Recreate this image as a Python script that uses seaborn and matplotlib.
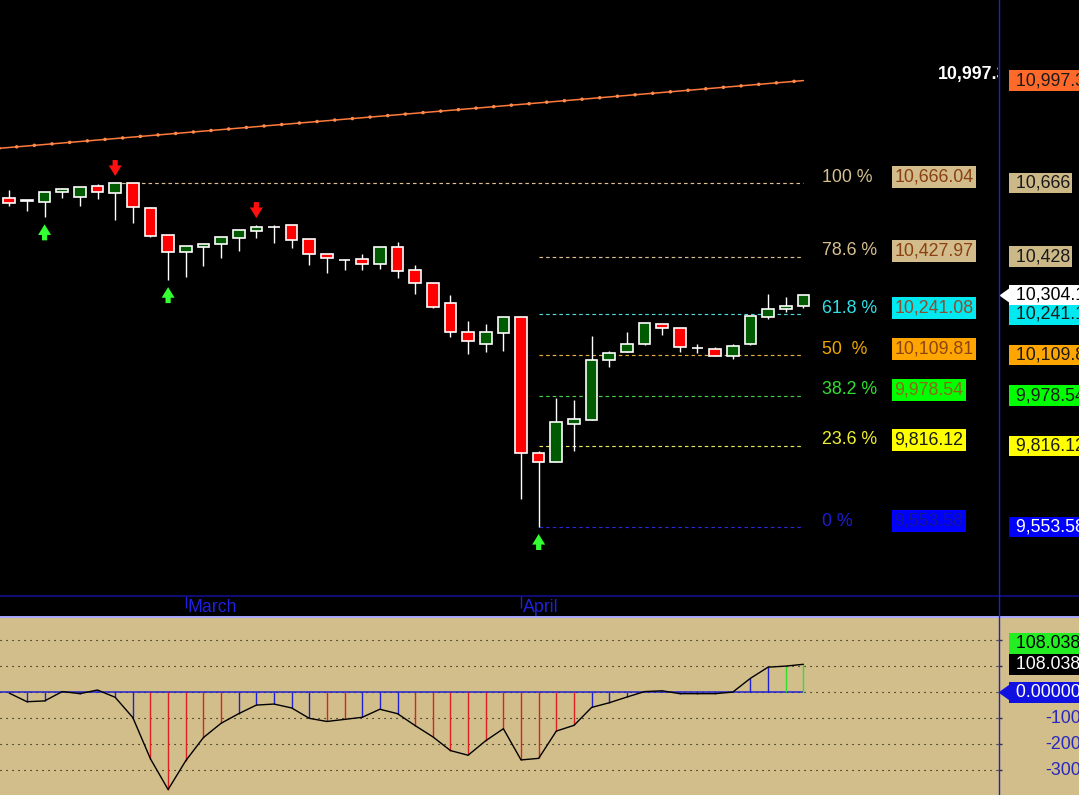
import matplotlib
matplotlib.use("Agg")
import matplotlib.pyplot as plt
import matplotlib.transforms as mtransforms
from matplotlib.lines import Line2D
from matplotlib.patches import Rectangle
import seaborn as sns

# ---- price data ----
opens  = [10617, 10610, 10606, 10636, 10622, 10656, 10635, 10665, 10584, 10497,
          10444, 10460, 10468, 10489, 10512, 10525, 10529, 10484, 10435, 10418,
          10419, 10403, 10458, 10384, 10342, 10277, 10183, 10146, 10180, 10232,
          9794, 9765, 9888, 9901, 10093, 10119, 10144, 10209, 10196, 10134,
          10128, 10106, 10144, 10232, 10258, 10267]
highs  = [10643, 10611, 10637, 10650, 10653, 10662, 10666.04, 10666, 10588, 10498,
          10462, 10469, 10491, 10514, 10530, 10530, 10530, 10485, 10436, 10420,
          10436, 10459, 10474, 10400, 10344, 10303, 10220, 10210, 10233, 10233,
          9800, 9970, 9964, 10171, 10123, 10183, 10213, 10210, 10197, 10144,
          10136, 10144, 10236, 10306, 10296, 10304.5]
lows   = [10593, 10576, 10555, 10619, 10593, 10614, 10546, 10538, 10492, 10352,
          10363, 10398, 10424, 10447, 10489, 10473, 10456, 10401, 10376, 10385,
          10385, 10388, 10360, 10307, 10262, 10169, 10113, 10120, 10124, 9644,
          9553.58, 9764, 9800, 9900, 10072, 10118, 10143, 10174, 10119, 10115,
          10105, 10098, 10143, 10225, 10248, 10261]
closes = [10602, 10608, 10636, 10646, 10652, 10638, 10665, 10589, 10496, 10444,
          10461, 10468, 10490, 10513, 10523, 10523, 10483, 10435, 10423, 10416,
          10403, 10458, 10382, 10342, 10264, 10183, 10154, 10183, 10232, 9794,
          9763, 9892, 9902, 10093, 10115, 10144, 10212, 10196, 10135, 10133,
          10106, 10138, 10235, 10258, 10267, 10304.1]

up_signals = [2, 9, 30]
down_signals = [6, 14]

month_names = ["March", "April"]
month_starts = [10, 29]

# trend line values at first and last bar
trend_first = 10781
trend_last = 10997.3
trend_text = "10,997.3"

# fibonacci retracement
fib_pct = ["100 %", "78.6 %", "61.8 %", "50  %", "38.2 %", "23.6 %", "0 %"]
fib_vals = [10666.04, 10427.97, 10241.08, 10109.81, 9978.54, 9816.12, 9553.58]
fib_start = [6, 30, 30, 30, 30, 30, 30]
fib_axis_text = ["10,666", "10,428", "10,241.1", "10,109.8", "9,978.54", "9,816.12", "9,553.58"]
last_close_text = "10,304.1"

# indicator (lower pane)
ind_vals = [-3, -36, -33, 3, -5, 9, -19, -97, -256, -374,
            -263, -174, -119, -82, -49, -45, -60, -100, -112, -104,
            -96, -65, -82, -128, -171, -224, -242, -186, -140, -260,
            -254, -149, -127, -58, -40, -18, 3, 6, -5, -5,
            -5, 1, 54, 97, 101, 108.038]
ind_state = list("bbbbbbbb" + "rrrrr" + "bbbbb" + "rr" + "bbb" + "rrrrrrrrrr" + "bbbbbbbbbbb" + "gg")
ind_grid = [200, 100, 0, -100, -200, -300]
ind_tick_text = ["-100", "-200", "-300"]
ind_last_text = "108.038"

# ---- style ----
sns.set_style("dark")
plt.rcParams["font.family"] = ["Liberation Sans", "DejaVu Sans"]
FS = 12.8

TAN = "#d1be8b"
fib_line_col = ["#e0c090", "#e0c090", "#50dada", "#e8b040", "#48d048", "#e8e860", "#2828d8"]
fib_pct_col = ["#d6c090", "#d6c090", "#30e0e8", "#f0a800", "#30e030", "#f0f030", "#1c1cd0"]
fib_box_bg = ["#d2bc8c", "#d2bc8c", "#00e8f0", "#ffa500", "#00ff00", "#ffff00", "#0000ff"]
fib_box_txt = ["#8b4010", "#8b4010", "#8b5030", "#8b4513", "#8b6a14", "#1a1a1a", "#14149a"]
fib_axis_bg = ["#cdb888", "#cdb888", "#00e8f0", "#ffa500", "#00ff00", "#ffff00", "#0000ff"]
fib_axis_txt = ["#1a1a1a"] * 6 + ["white"]
state_col = {"b": "#2020d0", "r": "#e02020", "g": "#30e030"}

W, H = 1079, 795
fig = plt.figure(figsize=(W / 100, H / 100), dpi=100, facecolor="black")


def px_rect(x0, y0, x1, y1):
    return [x0 / W, 1 - y1 / H, (x1 - x0) / W, (y1 - y0) / H]


ax = fig.add_axes(px_rect(0, 0, 998, 595))
ax_strip = fig.add_axes(px_rect(0, 596, 998, 616), sharex=ax)
ax_ind = fig.add_axes(px_rect(0, 617, 998, 795), sharex=ax)

for a, bg in [(ax, "black"), (ax_strip, "black"), (ax_ind, TAN)]:
    a.set_facecolor(bg)
    for s in a.spines.values():
        s.set_visible(False)
    a.set_xticks([])
    a.set_yticks([])
    a.grid(False)

idx = list(range(len(opens)))
ax.set_xlim(-0.527, 56.03)
ax.set_ylim(9333.7, 11257.9)

# ---- candles ----
ax.vlines(idx, lows, highs, color="white", lw=1.0, zorder=3)
body_col = ["#005a00" if c >= o else "#ff0000" for o, c in zip(opens, closes)]
ax.bar(idx, [c - o for o, c in zip(opens, closes)], bottom=opens, width=0.66,
       color=body_col, edgecolor="white", linewidth=1.2, zorder=4)

# signal arrows
arrow_style = "simple,head_length=0.45,head_width=0.55,tail_width=0.22"
for i in up_signals:
    ax.annotate("", xy=(i, lows[i]), xytext=(0, -23 * 0.72), textcoords="offset points",
                arrowprops=dict(arrowstyle=arrow_style, fc="#33ff33", ec="none",
                                shrinkA=0, shrinkB=7 * 0.72, mutation_scale=17), zorder=5)
for i in down_signals:
    ax.annotate("", xy=(i, highs[i]), xytext=(0, 23 * 0.72), textcoords="offset points",
                arrowprops=dict(arrowstyle=arrow_style, fc="#ff1010", ec="none",
                                shrinkA=0, shrinkB=7 * 0.72, mutation_scale=17), zorder=5)

# trend line with dots on every bar
step = (trend_last - trend_first) / (len(idx) - 1)
tx = [-1, idx[-1]]
ty = [trend_first - step, trend_last]
sns.lineplot(x=tx, y=ty, ax=ax, color="#ff7a3c", lw=1.1, legend=False)
ax.plot(tx, ty, color="#ff8a4c", lw=2.6, ls=(0, (0.01, 4.9)), dash_capstyle="round")

# fibonacci lines
ax.hlines(fib_vals, fib_start, idx[-1], colors=fib_line_col, lw=0.85,
          linestyles=(0, (3.0, 2.6)), zorder=2)

ybl = mtransforms.blended_transform_factory(ax.transAxes, ax.transData)
up6 = mtransforms.offset_copy(ybl, fig=fig, x=0, y=6, units="dots")
for k, v in enumerate(fib_vals):
    ax.text(821.7 / 998, v, fib_pct[k], transform=up6, color=fib_pct_col[k],
            ha="left", va="center", fontsize=FS)
    ax.text(894.4 / 998, v, f"{v:,.2f}", transform=up6, color=fib_box_txt[k],
            ha="left", va="center", fontsize=FS,
            bbox=dict(boxstyle="square,pad=0.14", fc=fib_box_bg[k], ec="none"))
    ax.text(1011 / 998, v, " " + fib_axis_text[k], transform=ybl, color=fib_axis_txt[k],
            ha="left", va="center", fontsize=FS, clip_on=False,
            bbox=dict(boxstyle="square,pad=0.1", fc=fib_axis_bg[k], ec="none"))

# trend line price labels
ax.text(938 / 998, trend_last, trend_text, transform=up6, color="white",
        fontweight="bold", ha="left", va="center", fontsize=FS, clip_on=True)
ax.text(1011 / 998, trend_last, " " + trend_text, transform=ybl, color="#1a1a1a",
        ha="left", va="center", fontsize=FS, clip_on=False,
        bbox=dict(boxstyle="square,pad=0.1", fc="#ff6a2a", ec="none"))

# last close tag
tag_marker = [(-0.7, 0), (0.7, 1), (0.7, -1)]
ax.plot([1005.2 / 998], [closes[-1]], transform=ybl, marker=tag_marker, ms=12.7,
        color="white", mew=0, clip_on=False)
ax.text(1011 / 998, closes[-1], " " + last_close_text, transform=ybl, color="black",
        ha="left", va="center", fontsize=FS, clip_on=False, zorder=6,
        bbox=dict(boxstyle="square,pad=0.1", fc="white", ec="none"))

# ---- month strip ----
xt = ax_strip.get_xaxis_transform()
ax_strip.vlines(month_starts, 0.4, 1.0, transform=xt, color="#2020e0", lw=1)
right3 = mtransforms.offset_copy(xt, fig=fig, x=2, y=0, units="dots")
for name, m in zip(month_names, month_starts):
    ax_strip.text(m, 0.45, name, transform=right3, color="#2020e0", ha="left",
                  va="center", fontsize=FS)

# ---- indicator pane ----
ax_ind.set_ylim(-395, 290)
for g in ind_grid:
    ax_ind.axhline(g, color="black", lw=0.8, ls=(0, (1, 4.4)), zorder=1)
ax_ind.hlines(0, -0.527, idx[-1], color="#2020d0", lw=1.1, zorder=2)
ax_ind.vlines(idx, 0, ind_vals, colors=[state_col[s] for s in ind_state], lw=1.0, zorder=3)
sns.lineplot(x=idx, y=ind_vals, ax=ax_ind, color="black", lw=1, legend=False, zorder=4)
ax_ind.set_xlabel("")
ax_ind.set_ylabel("")
ax_ind.yaxis.tick_right()
ax_ind.set_yticks(ind_grid)
ax_ind.set_yticklabels([])
ax_ind.tick_params(axis="y", length=3, width=1, color="#303050", direction="out")

ybi = mtransforms.blended_transform_factory(ax_ind.transAxes, ax_ind.transData)
up21 = mtransforms.offset_copy(ybi, fig=fig, x=0, y=21, units="dots")
last_val = ind_vals[-1]
ax_ind.text(1011 / 998, last_val, " " + ind_last_text, transform=up21, color="black",
            ha="left", va="center", fontsize=FS, clip_on=False,
            bbox=dict(boxstyle="square,pad=0.1", fc="#22ee22", ec="none"))
ax_ind.text(1011 / 998, last_val, " " + ind_last_text, transform=ybi, color="white",
            ha="left", va="center", fontsize=FS, clip_on=False,
            bbox=dict(boxstyle="square,pad=0.1", fc="black", ec="none"))
ax_ind.plot([1005.2 / 998], [0], transform=ybi, marker=tag_marker, ms=14.5,
            color="#1010e0", mew=0, clip_on=False)
ax_ind.text(1011 / 998, 0, " " + f"{0:.5f}", transform=ybi, color="white",
            ha="left", va="center", fontsize=FS, clip_on=False, zorder=6,
            bbox=dict(boxstyle="square,pad=0.1", fc="#1010e0", ec="none"))
for g, t in zip(ind_grid[3:], ind_tick_text):
    ax_ind.text(1045 / 998, g, t, transform=ybi, color="#2828c0", ha="left",
                va="center", fontsize=FS, clip_on=False)

# ---- frame pieces ----
fig.add_artist(Rectangle((998 / W, 0), 81 / W, 178 / H, transform=fig.transFigure,
                         fc=TAN, ec="none", zorder=-5))
fig.add_artist(Line2D([0, 1], [1 - 595.5 / H] * 2, transform=fig.transFigure,
                      color="#10108a", lw=1.2, zorder=5))
fig.add_artist(Line2D([0, 1], [1 - 616.5 / H] * 2, transform=fig.transFigure,
                      color="#a8a8ff", lw=1.4, zorder=5))
fig.add_artist(Line2D([998.5 / W] * 2, [0, 1], transform=fig.transFigure,
                      color="#2020c8", lw=1.0, zorder=5))

fig.savefig("out.png", dpi=100, facecolor="black")
